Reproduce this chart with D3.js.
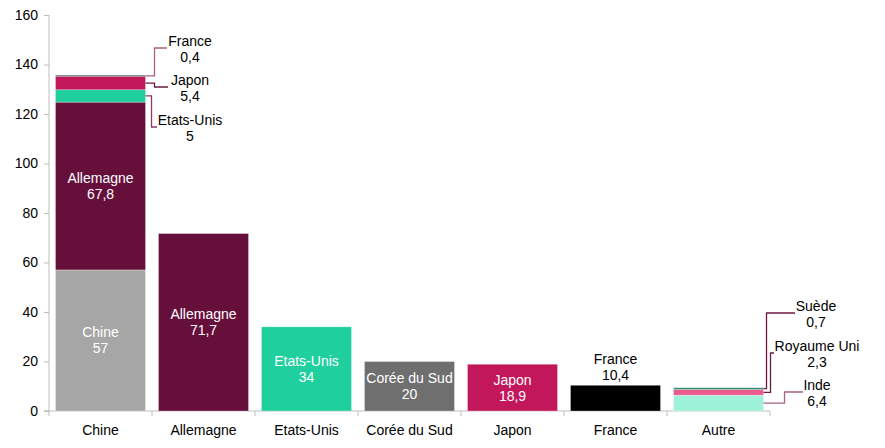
<!DOCTYPE html>
<html>
<head>
<meta charset="utf-8">
<script src="https://cdn.jsdelivr.net/npm/d3@7"></script>
<style>
  body { margin: 0; background: #fff; }
  text { font-family: "Liberation Sans", Arial, sans-serif; }
</style>
</head>
<body>
<div id="chart"></div>
<script>
// categories on the x axis
const categories = ["Chine", "Allemagne", "Etats-Unis", "Corée du Sud", "Japon", "France", "Autre"];

// stacked bar "Chine": countries and values (bottom to top)
const chineCountries = ["Chine", "Allemagne", "Etats-Unis", "Japon", "France"];
const chineValues = [57, 67.8, 5, 5.4, 0.4];

// simple bars
const singleCountries = ["Allemagne", "Etats-Unis", "Corée du Sud", "Japon", "France"];
const singleValues = [71.7, 34, 20, 18.9, 10.4];

// stacked bar "Autre"
const autreCountries = ["Inde", "Royaume Uni", "Suède"];
const autreValues = [6.4, 2.3, 0.7];

const yTicks = [0, 20, 40, 60, 80, 100, 120, 140, 160];

const colors = {
    "Chine": "#a6a6a6",
    "Allemagne": "#660f3a",
    "Etats-Unis": "#20cf9e",
    "Corée du Sud": "#6f6f6f",
    "Japon": "#c2185b",
    "France": "#000000",
    "Inde": "#9ff2da",
    "Royaume Uni": "#ea5a8c",
    "Suède": "#2d8a6c"
};

const width = 885, height = 448;
const fmt = v => String(v).replace(".", ",");

const svg = d3.select("#chart").append("svg")
    .attr("width", width)
    .attr("height", height);

const x = d3.scaleBand()
    .domain(categories)
    .range([49, 770])
    .paddingInner(0.126)
    .paddingOuter(0.063);

const y = d3.scaleLinear().domain([0, 160]).range([411, 15]);

// build stacks per category
const bars = categories.map(cat => {
    let names, vals;
    if (cat === "Chine") { names = chineCountries; vals = chineValues; }
    else if (cat === "Autre") { names = autreCountries; vals = autreValues; }
    else {
        const i = singleCountries.indexOf(cat);
        names = [singleCountries[i]]; vals = [singleValues[i]];
    }
    let acc = 0;
    const segs = names.map((n, i) => {
        const s = { cat, name: n, value: vals[i], y0: acc, y1: acc + vals[i] };
        acc += vals[i];
        return s;
    });
    return { cat, segs };
});
const segments = bars.flatMap(b => b.segs);

// axes
const gridColor = "#bfbfbf";
const yAxis = svg.append("g")
    .attr("transform", "translate(49,0)")
    .call(d3.axisLeft(y).tickValues(yTicks).tickSize(5).tickPadding(6));
yAxis.select(".domain").attr("stroke", gridColor).attr("d", `M-5,${y(0)}H0V${y(160)}`);
yAxis.selectAll(".tick line").attr("stroke", gridColor);
yAxis.selectAll(".tick text")
    .attr("fill", "#000")
    .style("font-size", "14px")
    .style("font-family", "'Liberation Sans', Arial, sans-serif");

const xAxisG = svg.append("g").attr("transform", `translate(0,${y(0)})`);
xAxisG.append("line")
    .attr("x1", 44).attr("x2", 770)
    .attr("stroke", gridColor);
const boundaries = categories.map(c => x(c) - x.step() * x.paddingInner() / 2).concat([770]);
xAxisG.selectAll(".xt").data(boundaries).enter().append("line")
    .attr("x1", d => d).attr("x2", d => d)
    .attr("y1", 0).attr("y2", 5)
    .attr("stroke", gridColor);
xAxisG.selectAll(".xl").data(categories).enter().append("text")
    .attr("x", d => x(d) + x.bandwidth() / 2)
    .attr("y", 24)
    .attr("text-anchor", "middle")
    .style("font-size", "14px")
    .attr("fill", "#000")
    .text(d => d);

// bars
svg.append("g").selectAll("rect").data(segments).enter().append("rect")
    .attr("x", d => x(d.cat))
    .attr("width", x.bandwidth())
    .attr("y", d => y(d.y1))
    .attr("height", d => y(d.y0) - y(d.y1))
    .attr("fill", d => colors[d.name])
    .attr("stroke", "#ffffff")
    .attr("stroke-opacity", 0.5)
    .attr("stroke-width", 0.6);

// labels inside bars (white, two lines)
const inside = segments.filter(d => d.value >= 18);
const insideG = svg.append("g").selectAll("g").data(inside).enter().append("g")
    .attr("transform", d => `translate(${x(d.cat) + x.bandwidth() / 2},${(y(d.y0) + y(d.y1)) / 2})`);
insideG.append("text")
    .attr("text-anchor", "middle")
    .attr("y", -3)
    .style("font-size", "14px")
    .attr("fill", "#fff")
    .text(d => d.name);
insideG.append("text")
    .attr("text-anchor", "middle")
    .attr("y", 13)
    .style("font-size", "14px")
    .attr("fill", "#fff")
    .text(d => fmt(d.value));

// label above the France bar
const above = segments.filter(d => d.cat === "France");
const aboveG = svg.append("g").selectAll("g").data(above).enter().append("g")
    .attr("transform", d => `translate(${x(d.cat) + x.bandwidth() / 2},${y(d.y1)})`);
aboveG.append("text").attr("text-anchor", "middle").attr("y", -21)
    .style("font-size", "14px").attr("fill", "#000").text(d => d.name);
aboveG.append("text").attr("text-anchor", "middle").attr("y", -5)
    .style("font-size", "14px").attr("fill", "#000").text(d => fmt(d.value));

// callouts for thin segments: elbow x offset, line y, line end, label centre
const callouts = [
    { cat: "Chine", name: "France", dx: 9, ly: 48, x2: 167, cx: 190, stroke: "#a66283" },
    { cat: "Chine", name: "Japon", dx: 9, ly: 87, x2: 168, cx: 190, stroke: "#6b1a45" },
    { cat: "Chine", name: "Etats-Unis", dx: 6, ly: 127, x2: 157, cx: 190, stroke: "#8a3a62" },
    { cat: "Autre", name: "Suède", dx: 3, ly: 313, x2: 795, cx: 816, stroke: "#6b1a45" },
    { cat: "Autre", name: "Royaume Uni", dx: 7, ly: 353, x2: 774, cx: 817, stroke: "#6b1a45" },
    { cat: "Autre", name: "Inde", dx: 21, ly: 392, x2: 803, cx: 817, stroke: "#a66283" }
];
callouts.forEach(c => {
    const seg = segments.find(s => s.cat === c.cat && s.name === c.name);
    const xr = x(c.cat) + x.bandwidth();
    const ym = (y(seg.y0) + y(seg.y1)) / 2;
    const x1 = xr + c.dx;
    svg.append("path")
        .attr("d", `M${xr},${ym}H${x1}V${c.ly}H${c.x2}`)
        .attr("fill", "none")
        .attr("stroke", c.stroke)
        .attr("stroke-width", 1.3);
    svg.append("text").attr("x", c.cx).attr("y", c.ly - 2)
        .attr("text-anchor", "middle").style("font-size", "14px").attr("fill", "#000")
        .text(seg.name);
    svg.append("text").attr("x", c.cx).attr("y", c.ly + 14)
        .attr("text-anchor", "middle").style("font-size", "14px").attr("fill", "#000")
        .text(fmt(seg.value));
});
</script>
</body>
</html>
